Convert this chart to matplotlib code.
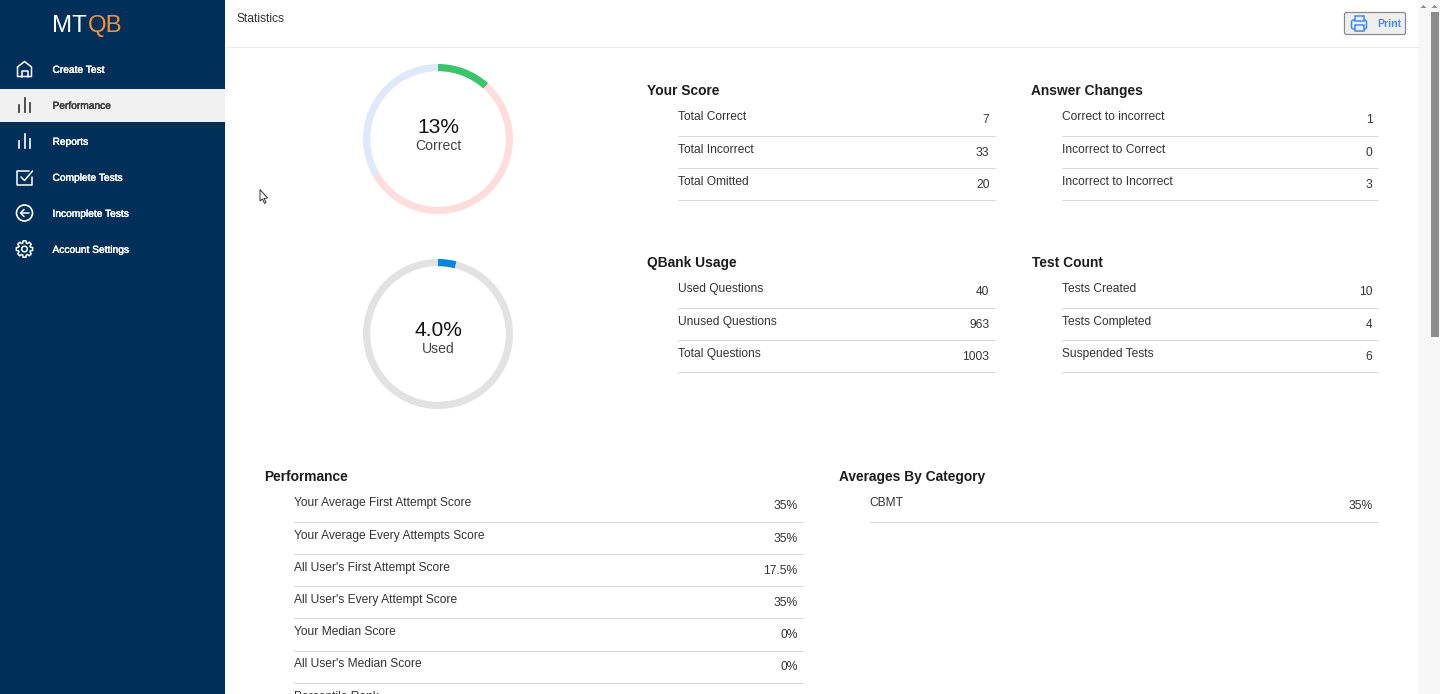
import numpy as np
import matplotlib
matplotlib.use("Agg")
import matplotlib.pyplot as plt
import matplotlib.patheffects as pe
from matplotlib.patches import Rectangle, FancyBboxPatch, Circle, Polygon

plt.rcParams['font.family'] = ['Liberation Sans', 'DejaVu Sans']

# ---- data ----
score_labels = ["Total Correct", "Total Incorrect", "Total Omitted"]
score_values = [7, 33, 20]
changes_labels = ["Correct to incorrect", "Incorrect to Correct", "Incorrect to Incorrect"]
changes_values = [1, 0, 3]
usage_labels = ["Used Questions", "Unused Questions", "Total Questions"]
usage_values = [40, 963, 1003]
count_labels = ["Tests Created", "Tests Completed", "Suspended Tests"]
count_values = [10, 4, 6]
perf_labels = ["Your Average First Attempt Score", "Your Average Every Attempts Score",
               "All User's First Attempt Score", "All User's Every Attempt Score",
               "Your Median Score", "All User's Median Score", "Percentile Rank"]
perf_values = ["35%", "35%", "17.5%", "35%", "0%", "0%", ""]
cat_labels = ["CBMT"]
cat_values = ["35%"]
nav_labels = ["Create Test", "Performance", "Reports", "Complete Tests", "Incomplete Tests", "Account Settings"]
score_colors = ["#3cc46c", "#ffdddd", "#dfe9fb"]
usage_colors = ["#0a84e0", "#e2e2e2"]

W, H = 1440, 694
NAVY = "#00305a"
fig = plt.figure(figsize=(W / 100, H / 100), dpi=100, facecolor="white")
ax = fig.add_axes([0, 0, 1, 1])
ax.set_xlim(0, W)
ax.set_ylim(H, 0)
ax.axis("off")


def T(x, y, s, px=12, color="#222222", ha="left", va="center", weight="normal", **kw):
    return ax.text(x, y, s, fontsize=px * 0.72, color=color, ha=ha, va=va, weight=weight, **kw)


def table(title, title_x, title_y, label_x, right_x, line_end, labels, values, first_y):
    T(title_x, title_y + 0.8, title, 13.7, "#1c1c1c", weight="bold")
    for i, (l, v) in enumerate(zip(labels, values)):
        y = first_y + i * 32.2
        T(label_x - 0.5, y + 0.8, l, 12, "#333333")
        T(right_x + 0.5, y + 3.8, str(v), 12, "#333333", ha="right")
        if i < 6:
            ax.plot([label_x - 0.5, line_end - 0.5], [y + 19.2, y + 19.2], color="#d8d8d8", lw=0.75,
                    solid_capstyle="butt")


# sidebar
ax.add_patch(Rectangle((0, 0), 225, H, fc=NAVY, ec="none"))
ax.add_patch(Rectangle((0, 88.5), 225, 33.5, fc="#f1f1f1", ec="none"))
T(52.5, 25.5, "MT", 24, "white")
T(87.5, 25.5, "QB", 24, "#f5923a")
for i, lab in enumerate(nav_labels):
    col = "#3a3a3a" if i == 1 else "white"
    t = T(52.5, 69.8 + i * 36, lab, 10.2, col)
    t.set_path_effects([pe.withStroke(linewidth=0.3, foreground=col)])

# nav icons
ic = dict(color="white", lw=1.1, solid_capstyle="round", solid_joinstyle="round")
ax.plot([17.5, 17.5, 24.5, 31.5, 31.5, 17.5, 17.5], [67, 77, 61.5, 67, 77, 77, 67], alpha=0, **ic)
ax.plot([17.5, 24.5, 31.5, 31.5, 17.5, 17.5], [67, 61.5, 67, 76.5, 76.5, 67], **ic)
ax.plot([21.5, 21.5, 27.5, 27.5], [76.5, 70.5, 70.5, 76.5], **ic)
for cy, col in ((105, "#333333"), (141, "white")):
    for bx, top in ((19, 0), (24.5, -7), (29.5, -2)):
        ax.plot([bx, bx], [cy + top, cy + 7], color=col, lw=1.2)
ax.plot([32, 32, 17, 17, 29], [177, 185, 185, 171, 171], **ic)
ax.plot([21, 24.5, 32.5], [177, 180.5, 171], **ic)
ax.add_patch(Circle((24.5, 213), 8, fc="none", ec="white", lw=1.2))
ax.plot([29, 20.5], [213, 213], **ic)
ax.plot([24, 20.5, 24], [209.5, 213, 216.5], **ic)
# gear outline
ang, rad = [], []
for k in range(8):
    c = k * 45
    ang += [c - 22.5 + 6, c - 10, c + 10, c + 22.5 - 6]
    rad += [6.2, 8.3, 8.3, 6.2]
ang = np.radians(ang)
ax.add_patch(Polygon(np.c_[24.5 + np.array(rad) * np.cos(ang), 249 + np.array(rad) * np.sin(ang)],
                     fc="none", ec="white", lw=1.1, joinstyle="round"))
ax.add_patch(Circle((24.5, 249), 2.8, fc="none", ec="white", lw=1.1))

# header
T(237, 18.8, "Statistics", 12, "#333333")
ax.plot([226, 1418], [46.5, 46.5], color="#ececec", lw=0.75)
ax.add_patch(FancyBboxPatch((1344.5, 12.5), 61, 22, boxstyle="round,pad=0,rounding_size=2", fc="#efefef", ec="#8a8a8a", lw=0.9))
T(1377, 23.8, "Print", 10.5, "#3d8bfd", weight="bold")
blue = "#3d8bfd"
ax.add_patch(FancyBboxPatch((1351.5, 20), 15, 9, boxstyle="round,pad=0,rounding_size=2", fc="none", ec=blue, lw=1.1))
ax.add_patch(Rectangle((1354.5, 15.5), 9, 5, fc="#efefef", ec=blue, lw=1.1))
ax.add_patch(Rectangle((1354.5, 25), 9, 6, fc="#efefef", ec=blue, lw=1.1))

# scrollbar
ax.add_patch(Rectangle((1418, 0), 22, H, fc="#f7f7f7", ec="none"))
ax.add_patch(Rectangle((1430.5, 12), 8, 325, fc="#8c8c8c", ec="none"))
ax.add_patch(Polygon([[1420.5, 8], [1423.5, 5], [1426.5, 8]], fc="#8c8c8c", ec="none"))
ax.add_patch(Polygon([[1431.5, 8], [1434.5, 5], [1437.5, 8]], fc="#8c8c8c", ec="none"))

# cursor
ax.add_patch(Polygon([[260, 189.5], [260, 201], [262.5, 199], [264.5, 203.5], [266, 202.5], [264, 198.5], [267.5, 198]],
                     fc="white", ec="#333333", lw=0.7))


# donuts
def donut(cx, cy, values, colors):
    R = 75
    a = fig.add_axes([(cx - R) / W, 1 - (cy + R) / H, 2 * R / W, 2 * R / H])
    a.pie(values, colors=colors, startangle=90, counterclock=False, radius=1,
          wedgeprops=dict(width=7.2 / R, linewidth=0))
    a.set_xlim(-1, 1)
    a.set_ylim(-1, 1)
    a.set_aspect("equal")
    a.axis("off")


donut(438, 139, score_values, score_colors)
donut(438, 334, [usage_values[0], usage_values[1]], usage_colors)
T(438, 127, "13%", 21, "#111111", ha="center")
T(438, 145.5, "Correct", 14, "#444444", ha="center")
T(438, 330.5, "4.0%", 21, "#111111", ha="center")
T(438, 348.5, "Used", 14, "#444444", ha="center")

# tables
table("Your Score", 647, 90, 678, 989, 995.5, score_labels, score_values, 116.5)
table("Answer Changes", 1031, 90, 1062, 1372, 1378.5, changes_labels, changes_values, 116.5)
table("QBank Usage", 647, 262, 678, 989, 995.5, usage_labels, usage_values, 288.5)
table("Test Count", 1032, 262, 1062, 1372, 1378.5, count_labels, count_values, 288.5)
table("Performance", 264, 476, 294.5, 797, 803.5, perf_labels, perf_values, 502.5)
table("Averages By Category", 839, 476, 870, 1372, 1378.5, cat_labels, cat_values, 502.5)

fig.savefig("out.png", dpi=100, facecolor="white")
